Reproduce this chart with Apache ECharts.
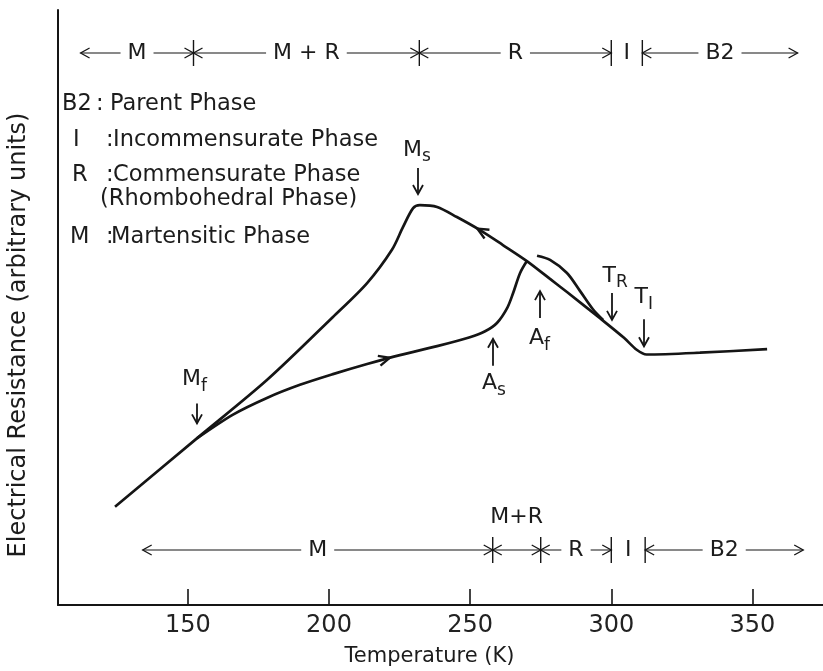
<!DOCTYPE html>
<html>
<head>
<meta charset="utf-8">
<script src="https://cdn.jsdelivr.net/npm/echarts@6/dist/echarts.min.js"></script>
<style>
  html, body { margin: 0; padding: 0; background: #fff; }
  #chart { width: 823px; height: 671px; }
</style>
</head>
<body>
<div id="chart"></div>
<script>
// ---------- data ----------
const tempTicks = [150, 200, 250, 300, 350];

// Cooling run (B2 -> I -> R -> M): temperature (K) and resistance (arb. units)
const coolT = [124.2, 153.2, 178.0, 201.4, 213.5, 222.3, 226.2, 229.8, 232.2, 238.3, 245.3, 253.5,
               261.6, 270.1, 278.3, 284.3, 296.0, 304.5, 309.0, 312.5, 331.4, 355.2];
const coolR = [16.5, 28.0, 37.8, 48.4, 54.1, 59.7, 63.5, 66.7, 67.2, 66.9, 65.2, 63.0,
               60.5, 57.8, 54.8, 52.6, 48.2, 44.9, 42.9, 42.1, 42.4, 43.0];

// Heating run, lower branch (M -> R) from Mf up to Af
const heatT = [153.2, 166.0, 178.0, 189.7, 201.4, 213.5, 225.1, 238.3, 249.9, 255.3, 259.5,
               263.1, 265.2, 267.7, 270.1];
const heatR = [28.0, 32.0, 34.8, 37.0, 38.8, 40.5, 42.0, 43.5, 45.0, 46.0, 47.4,
               49.9, 52.4, 55.8, 57.8];

// Heating run, upper branch above Af, rejoining the cooling curve
const heat2T = [273.7, 278.3, 284.3, 288.9, 293.5, 297.1];
const heat2R = [58.7, 58.0, 55.8, 52.8, 49.7, 47.9];

// Transition temperatures (K)
const markerMain = ['M', 'M', 'A', 'A', 'T', 'T'];
const markerSub  = ['s', 'f', 's', 'f', 'R', 'I'];
const markerTemp = [231.5, 153.2, 258.1, 274.7, 300.2, 311.6];

// Phase sequence on cooling (upper row) and heating (lower row)
const coolPhaseNames  = ['M', 'M + R', 'R', 'I', 'B2'];
const coolPhaseBounds = [112, 152, 232, 300, 311, 366];
const heatPhaseNames  = ['M', 'M+R', 'R', 'I', 'B2'];
const heatPhaseBounds = [134, 258, 275, 300, 312, 368];

// Phase key
const keySymbols = ['B2', 'I', 'R', '', 'M'];
const keyTexts   = ['Parent Phase', 'Incommensurate Phase', 'Commensurate Phase',
                    '(Rhombohedral Phase)', 'Martensitic Phase'];

// ---------- drawing ----------
const FONT = '"DejaVu Sans", sans-serif';
const INK = '#151515';
const TXT = '#1c1c1c';

const zip = (a, b) => a.map((v, i) => [v, b[i]]);

function phaseRow(names, bounds, atTop) {
  return {
    type: 'custom',
    silent: true,
    clip: false,
    z: 5,
    data: names.map((n, i) => [bounds[i], bounds[i + 1], i]),
    renderItem(params, api) {
      const i = api.value(2);
      const cs = params.coordSys;
      const y = atTop ? cs.y + 43 : cs.y + cs.height - 55;
      const x0 = api.coord([api.value(0), 0])[0];
      const x1 = api.coord([api.value(1), 0])[0];
      const w = x1 - x0;
      const kids = [];
      const head = (x, dir) => ({
        type: 'polyline',
        shape: { points: [[x - 9 * dir, y - 5], [x, y], [x - 9 * dir, y + 5]] },
        style: { stroke: INK, fill: null, lineWidth: 1.3 }
      });
      if (i > 0) {
        kids.push({ type: 'line', shape: { x1: x0, y1: y - 13, x2: x0, y2: y + 13 },
                    style: { stroke: INK, lineWidth: 1.4 } });
      }
      let ly = y;
      if (w >= 40) {
        kids.push({ type: 'line', shape: { x1: x0, y1: y, x2: x1, y2: y },
                    style: { stroke: INK, lineWidth: 1.2 } });
        kids.push(head(x0, -1), head(x1, 1));
        if (w < 60) ly = y - 33;
      }
      kids.push({
        type: 'text',
        style: {
          text: names[i], x: (x0 + x1) / 2, y: ly,
          align: 'center', verticalAlign: 'middle',
          textAlign: 'center', textVerticalAlign: 'middle',
          fontSize: 22, fontFamily: FONT, fill: TXT,
          backgroundColor: '#fff', padding: [2, 7]
        }
      });
      return { type: 'group', children: kids };
    }
  };
}

const lineStyle = { color: INK, width: 2.7 };

const chart = echarts.init(document.getElementById('chart'));
chart.setOption({
  animation: false,
  backgroundColor: '#fff',
  textStyle: { fontFamily: FONT },
  grid: { left: 58, right: 0, top: 10, bottom: 66, outerBoundsMode: 'none' },
  xAxis: {
    type: 'value', min: 104, max: 375,
    name: 'Temperature (K)', nameLocation: 'middle', nameGap: 41,
    nameTextStyle: { fontSize: 21, color: TXT, fontFamily: FONT, padding: [0, 22, 0, 0] },
    axisLine: { show: true, onZero: false, lineStyle: { color: INK, width: 2 } },
    axisTick: { show: true, inside: true, length: 16, customValues: tempTicks,
                lineStyle: { color: INK, width: 1.6 } },
    axisLabel: { customValues: tempTicks, fontSize: 24, color: '#222', margin: 9, fontFamily: FONT },
    splitLine: { show: false }
  },
  yAxis: {
    type: 'value', min: 0, max: 100,
    name: 'Electrical Resistance (arbitrary units)', nameLocation: 'middle', nameGap: 27,
    nameTextStyle: { fontSize: 24, color: TXT, fontFamily: FONT, padding: [0, 55, 0, 0] },
    axisLine: { show: true, onZero: false, lineStyle: { color: INK, width: 2 } },
    axisTick: { show: false }, axisLabel: { show: false }, splitLine: { show: false }
  },
  series: [
    { name: 'cooling', type: 'line', data: zip(coolT, coolR), showSymbol: false,
      smooth: 0.3, lineStyle, silent: true, z: 3 },
    { name: 'heating', type: 'line', data: zip(heatT, heatR), showSymbol: false,
      smooth: 0.3, lineStyle, silent: true, z: 3 },
    { name: 'heating-upper', type: 'line', data: zip(heat2T, heat2R), showSymbol: false,
      smooth: 0.3, lineStyle, silent: true, z: 3 },
    phaseRow(coolPhaseNames, coolPhaseBounds, true),
    phaseRow(heatPhaseNames, heatPhaseBounds, false)
  ]
});

// ---------- annotations ----------
function interp(ts, vs, t) {
  if (t <= ts[0]) return vs[0];
  for (let i = 0; i < ts.length - 1; i++) {
    if (t >= ts[i] && t <= ts[i + 1]) {
      const f = (t - ts[i]) / (ts[i + 1] - ts[i]);
      return vs[i] + f * (vs[i + 1] - vs[i]);
    }
  }
  return vs[vs.length - 1];
}
const px = (t, v) => chart.convertToPixel({ gridIndex: 0 }, [t, v]);

const graphics = [];
const text = (s, x, y, size, align) => ({
  type: 'text', x, y, silent: true,
  style: { text: s, fontSize: size, fontFamily: FONT, fill: TXT,
           align: align || 'left', verticalAlign: 'middle',
           textAlign: align || 'left', textVerticalAlign: 'middle' }
});

// phase key block
const keyY = [104, 140, 175, 199, 237];
const keyX = [62, 73, 72, 0, 70];
const colonX = [96, 106, 106, 0, 106];
const descX = [110, 113, 113, 100, 111];
keyTexts.forEach((d, i) => {
  if (keySymbols[i]) {
    graphics.push(text(keySymbols[i], keyX[i], keyY[i], 22.5));
    graphics.push(text(':', colonX[i], keyY[i], 22.5));
  }
  graphics.push(text(d, descX[i], keyY[i], 22.5));
});

// transition markers: arrow toward the curve plus label
const markerCurve = ['cool', 'cool', 'heat', 'cool', 'cool', 'cool'];
const markerDown  = [true, true, false, false, true, true];
const markerGap   = [12, 15, 13, 20, 8, 7];
const markerLabelGap = [18, 24, 18, 20, 17, 22];
const markerLen = [26, 20, 27, 27, 27, 27];
markerTemp.forEach((t, i) => {
  const v = markerCurve[i] === 'cool' ? interp(coolT, coolR, t) : interp(heatT, heatR, t);
  const p = px(t, v);
  const x = Math.round(p[0]);
  const dir = markerDown[i] ? 1 : -1;           // 1: arrow points down
  const tipY = p[1] - dir * markerGap[i];
  const tailY = tipY - dir * markerLen[i];
  graphics.push({ type: 'line', silent: true, shape: { x1: x, y1: tailY, x2: x, y2: tipY },
                  style: { stroke: INK, lineWidth: 1.8 } });
  graphics.push({ type: 'polyline', silent: true,
                  shape: { points: [[x - 5, tipY - dir * 9], [x, tipY], [x + 5, tipY - dir * 9]] },
                  style: { stroke: INK, fill: null, lineWidth: 1.8 } });
  const ly = tailY - dir * markerLabelGap[i];
  graphics.push(text(markerMain[i], x + 4, ly, 22, 'right'));
  graphics.push(text(markerSub[i], x + 4, ly + 7, 17, 'left'));
});

// direction arrows on the cooling and heating runs
function runArrow(ts, vs, t, towardLower) {
  const a = px(t, interp(ts, vs, t));
  const t2 = towardLower ? t - 1.5 : t + 1.5;
  const b = px(t2, interp(ts, vs, t2));
  let ux = b[0] - a[0], uy = b[1] - a[1];
  const n = Math.hypot(ux, uy); ux /= n; uy /= n;
  const tip = [a[0] + ux * 3, a[1] + uy * 3];
  const back = [tip[0] - ux * 11, tip[1] - uy * 11];
  graphics.push({ type: 'polyline', silent: true, z: 10,
    shape: { points: [[back[0] - uy * 5, back[1] + ux * 5], tip, [back[0] + uy * 5, back[1] - ux * 5]] },
    style: { stroke: INK, fill: null, lineWidth: 2.4 } });
}
runArrow(coolT, coolR, 253.5, true);
runArrow(heatT, heatR, 220.5, false);

chart.setOption({ graphic: graphics });
</script>
</body>
</html>
